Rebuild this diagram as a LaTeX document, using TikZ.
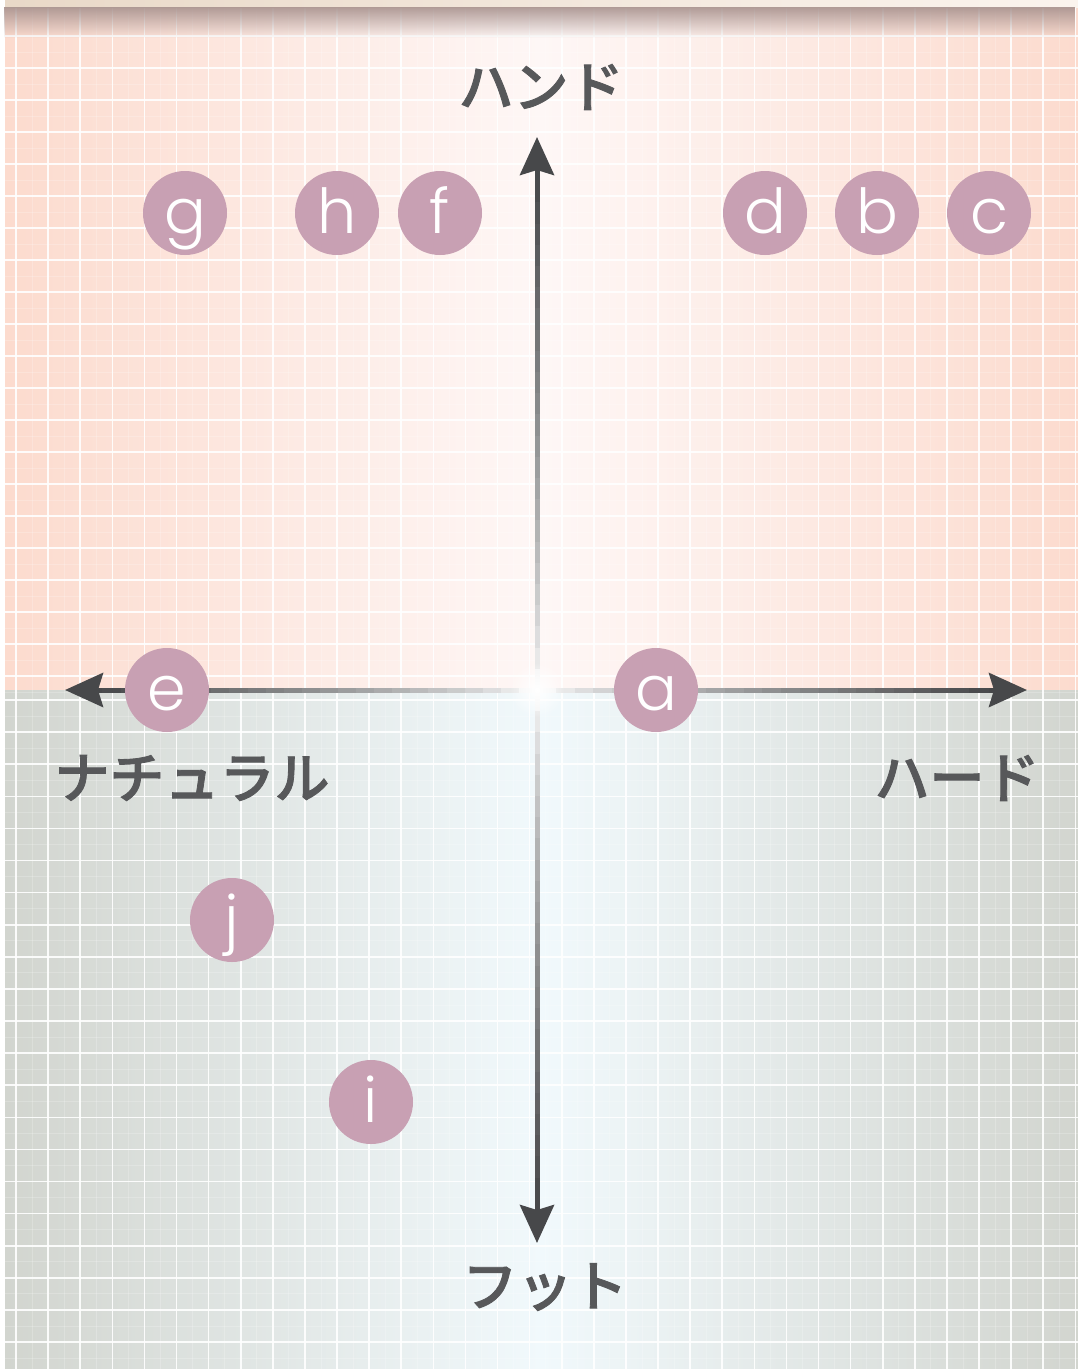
\documentclass[tikz,border=0pt]{standalone}
\usepackage{fontspec}
\newfontfamily\jpfont{Noto Sans CJK JP Medium}[FakeBold=1.5]
\newfontfamily\ltrfont{Poppins Light}
\usetikzlibrary{arrows.meta,calc,fadings}

\definecolor{bandl}{HTML}{E9D9C8}
\definecolor{bandr}{HTML}{FBF4EE}
\definecolor{shadowc}{HTML}{A8928E}
\definecolor{peach}{HTML}{FCDBCE}
\definecolor{peachmid}{HTML}{FEF7F6}
\definecolor{sage}{HTML}{D2D5CF}
\definecolor{sagemid}{HTML}{F1F9FC}
\definecolor{bubblec}{HTML}{C8A0B3}
\definecolor{labelc}{HTML}{57585A}
\definecolor{axdark}{HTML}{47484A}

\tikzfading[name=topshade, top color=transparent!10, bottom color=transparent!100]
\tikzfading[name=glow, inner color=transparent!0, outer color=transparent!100]

\begin{document}
\begin{tikzpicture}[x=1pt, y=-1pt, bubble/.style={circle, fill=bubblec, minimum size=84pt, inner sep=0pt, text=white, font=\ltrfont\fontsize{62}{62}\selectfont, text height=40pt, text depth=0pt}, axlbl/.style={text=labelc, font=\jpfont\fontsize{55}{60}\selectfont, inner sep=0pt}, axis/.style={draw=axdark, line width=5pt, -{Stealth[length=38pt, width=34pt, inset=5pt]}}, gridmajor/.style={white, line width=1.6pt, opacity=0.9}, gridminor/.style={white, line width=0.8pt, opacity=0.2}]
	\useasboundingbox (0,0) rectangle (1078,1369);
	\fill[white] (0,0) rectangle (1078,1369);
	% panels
	\shade[left color=peach, right color=peach, middle color=peachmid] (5,7) rectangle (1078,690);
	\shade[left color=sage, right color=sage, middle color=sagemid] (5,690) rectangle (1078,1369);
	% grid
	\foreach \k in {-1,...,33} {\draw[gridminor] ({32.05+32.1*\k},7) -- ({32.05+32.1*\k},1369);}
	\foreach \k in {0,...,20} {\draw[gridminor] (5,{52+32*\k}) -- (1078,{52+32*\k});}
	\foreach \k in {0,...,20} {\draw[gridminor] (5,{716.05+32.1*\k}) -- (1078,{716.05+32.1*\k});}
	\foreach \k in {0,...,33} {\draw[gridmajor] ({16+32.1*\k},7) -- ({16+32.1*\k},1369);}
	\foreach \k in {0,...,20} {\draw[gridmajor] (5,{36+32*\k}) -- (1078,{36+32*\k});}
	\foreach \k in {0,...,20} {\draw[gridmajor] (5,{700+32.1*\k}) -- (1078,{700+32.1*\k});}
	% top band and its shadow
	\shade[left color=bandl, right color=bandr] (5,0) rectangle (1078,7);
	\fill[shadowc, path fading=topshade] (5,7) rectangle (1078,38);
	% axes
	\coordinate (o) at (537,690);
	\coordinate (tipE) at (1027,690);
	\coordinate (tipW) at (65,690);
	\coordinate (tipN) at (537,137);
	\coordinate (tipS) at (537,1243);
	\foreach \t in {tipE,tipW,tipN,tipS} {
		\draw[axis] (o) -- (\t);
		\foreach \k in {0,...,23} {
			\pgfmathsetmacro\p{100*((\k+0.5)/24)^0.75}
			\draw[draw=axdark!\p!white, line width=5pt] ($(o)!{0.92*\k/24}!(\t)$) -- ($(o)!{0.92*(\k+1.05)/24}!(\t)$);
		}
	}
	\fill[white, path fading=glow] (o) circle (28);
	% products
	\foreach \n/\x/\y in {g/185/213, h/337/213, f/440/213, d/765/213, b/877/213, c/989/213, e/167/690, a/656/690, j/232/920, i/371/1102} {\node[bubble] (\n) at (\x,\y) {\n};}
	% axis labels
	\node[axlbl] (hand) at (541,87) {ハンド};
	\node[axlbl] (natural) at (192,778) {ナチュラル};
	\node[axlbl] (hard) at (957,778) {ハード};
	\node[axlbl] (foot) at (545,1287) {フット};
\end{tikzpicture}
\end{document}
